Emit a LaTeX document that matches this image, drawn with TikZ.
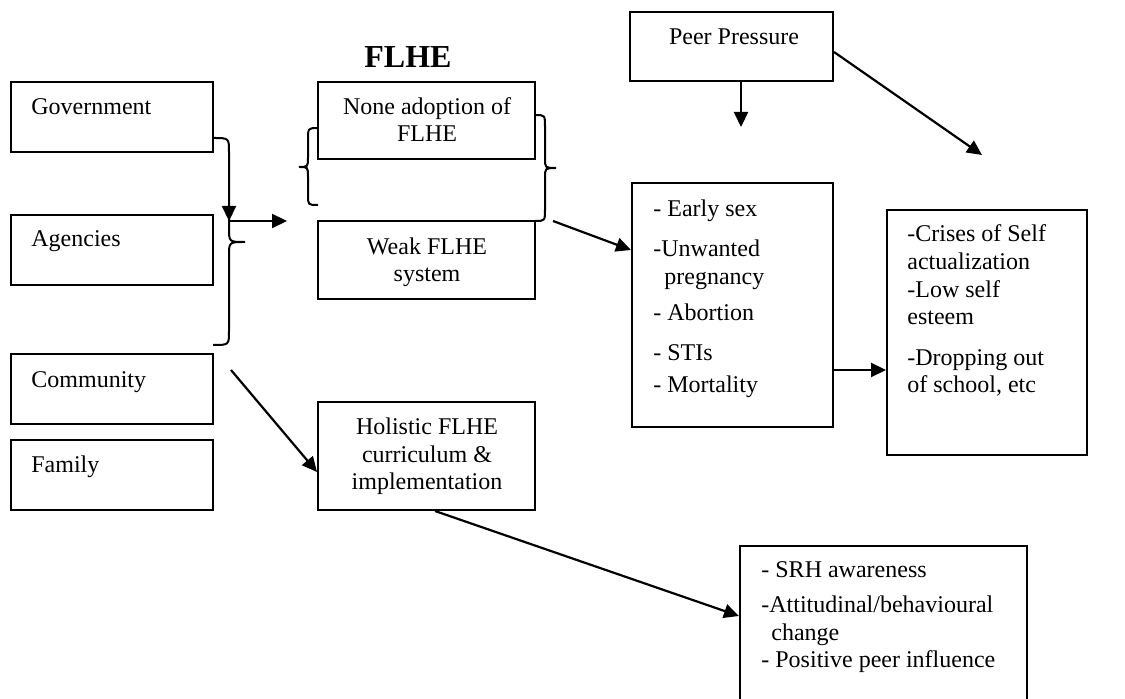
\documentclass[tikz,border=0pt]{standalone}
\usepackage{fontspec}
\setmainfont{Liberation Serif}
\usetikzlibrary{arrows.meta,fit}

\begin{document}
\begin{tikzpicture}[x=0.5pt,y=-0.5pt,
   box/.style={draw,line width=1pt,inner sep=0pt},
   txt/.style={inner sep=0pt,align=left,font=\fontsize{12}{13.8}\selectfont},
   ctxt/.style={txt,align=center},
   arr/.style={-{Triangle[length=7.5pt,width=7pt]},line width=1.1pt},
   brace/.style={line width=1pt}]
   \useasboundingbox (0,0) rectangle (1125,699);

   % the boxes
   \node[box,fit={(11,82) (213,152)}] (gov) {};
   \node[box,fit={(11,215) (213,285)}] (agen) {};
   \node[box,fit={(11,354) (213,424)}] (comm) {};
   \node[box,fit={(11,440) (213,510)}] (fam) {};
   \node[box,fit={(318,82) (535,159)}] (none) {};
   \node[box,fit={(318,221) (535,299)}] (weak) {};
   \node[box,fit={(318,402) (535,510)}] (holistic) {};
   \node[box,fit={(630,12) (833,81)}] (peer) {};
   \node[box,fit={(632,183) (833,427)}] (effects) {};
   \node[box,fit={(887,210) (1087,455)}] (crises) {};
   \node[box,fit={(740,546) (1027,710)}] (srh) {};

   % the texts (base = last line)
   \node[txt,anchor=base west] (govt) at (31,115) {Government};
   \node[txt,anchor=base west] (agent) at (31,247) {Agencies};
   \node[txt,anchor=base west] (commt) at (31,388) {Community};
   \node[txt,anchor=base west] (famt) at (31,473) {Family};
   \node[txt,anchor=base,font=\fontsize{16}{18}\selectfont\bfseries] (title) at (408,68) {FLHE};
   \node[ctxt,anchor=base] (nonet) at (427,142) {None adoption of\\FLHE};
   \node[ctxt,anchor=base] (weakt) at (427,282) {Weak FLHE\\system};
   \node[ctxt,anchor=base] (holistict) at (427,490) {Holistic FLHE\\curriculum \&\\implementation};
   \node[txt,anchor=base] (peert) at (734,45) {Peer Pressure};
   \node[txt,anchor=base west] (effectst) at (653,393)
      {- Early sex\\[6pt]-Unwanted\\\hspace*{5.5pt}pregnancy\\[4.5pt]- Abortion\\[6pt]- STIs\\[2.5pt]- Mortality};
   \node[txt,anchor=base west] (crisest) at (907,393)
      {-Crises of Self\\actualization\\-Low self\\esteem\\[6.5pt]-Dropping out\\of school, etc};
   \node[txt,anchor=base west] (srht) at (761,668)
      {- SRH awareness\\[4pt]-Attitudinal/behavioural\\\hspace*{5pt}change\\- Positive peer influence};

   % braces
   \draw[brace] (213,138) .. controls (229,138) .. (229,152) -- (229,228)
      .. controls (229,242) .. (245,242) .. controls (229,242) .. (229,256)
      -- (229,331) .. controls (229,345) .. (213,345);
   \draw[brace] (318,128) .. controls (308,128) .. (308,140) -- (308,157)
      .. controls (308,167) .. (299,167) .. controls (308,167) .. (308,177)
      -- (308,195) .. controls (308,205) .. (318,205);
   \draw[brace] (535,115) .. controls (545,115) .. (545,127) -- (545,158)
      .. controls (545,168) .. (556,168) .. controls (545,168) .. (545,178)
      -- (545,209) .. controls (545,221) .. (535,221);

   % the arrows
   \coordinate (gdown) at (229,160);
   \coordinate (join) at (229,221);
   \coordinate (aim) at (287,221);
   \coordinate (rb) at (553,221);
   \coordinate (pdown) at (741,127);
   \coordinate (pside) at (982,155);
   \coordinate (cm) at (231,370);
   \draw[arr] (gdown) -- (join);
   \draw[arr] (join) -- (aim);
   \draw[arr] (rb) -- ([yshift=27.5pt]effects.west);
   \draw[arr] ([xshift=4.75pt]peer.south) -- (pdown);
   \draw[arr] ([yshift=-2.75pt]peer.east) -- (pside);
   \draw[arr] ([yshift=-32.5pt]effects.east) coordinate (e1) -- (e1 -| crises.west);
   \draw[arr] (cm) -- ([yshift=-8pt]holistic.west);
   \draw[arr] ([xshift=4.25pt]holistic.south) -- ([yshift=6pt]srh.west);
\end{tikzpicture}
\end{document}
